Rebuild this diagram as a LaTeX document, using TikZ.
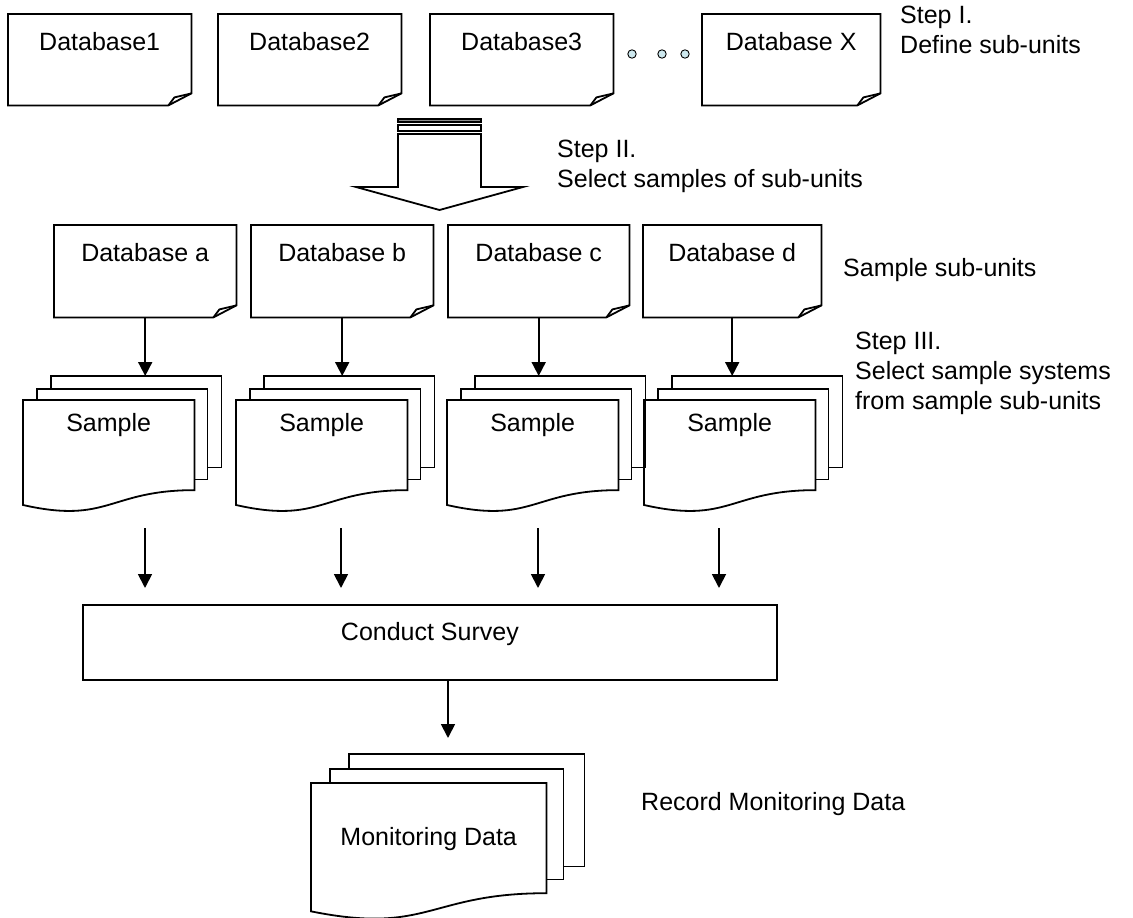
\documentclass[tikz,border=0pt]{standalone}
\usepackage{fontspec}
\setmainfont{Liberation Sans}
\usetikzlibrary{arrows.meta,calc}
\definecolor{dotfill}{RGB}{205,232,238}
\definecolor{barfill}{RGB}{140,140,140}
\tikzset{
  ln/.style={line width=1.8pt, line join=miter, draw=black},
  arr/.style={line width=1.8pt, -{Triangle[length=14pt,width=14pt]}},
  dbnode/.style={anchor=north west, inner sep=0pt, minimum height=91pt, text height=36pt, text depth=55pt},
  sheet/.style={anchor=north west, inner sep=0pt},
  txt/.style={anchor=north west, inner sep=0pt, align=left},
}
\newcommand\foldoutline[1]{%
  \draw[ln] (#1.north west) -- (#1.north east) -- ([yshift=12pt]#1.south east)
     -- ([xshift=-23pt]#1.south east) -- (#1.south west) -- cycle;
  \draw[ln] ([xshift=-23pt]#1.south east) -- ([xshift=-17pt,yshift=8pt]#1.south east)
     -- ([yshift=12pt]#1.south east);}
\newcommand\docoutline[1]{%
  \draw[ln] (#1.north west) -- (#1.north east) -- ($(#1.north east)!0.802!(#1.south east)$)
     .. controls ($(#1.north)!0.802!(#1.south)$) and ($(#1.north)!1.107!(#1.south)$) ..
     ($(#1.north west)!0.934!(#1.south west)$) -- cycle;}
\newcommand\backsheet[2]{%
  \draw[ln] (#1.west |- #2.north) -- (#1.north west) -- (#1.north east) -- (#1.south east) -- (#1.south -| #2.east);}
\newcommand\samplestack[2]{%
  \node[sheet, minimum width=171pt, minimum height=112pt, text height=31pt, text depth=81pt] (#1) at (#2,400) {Sample};
  \node[sheet, minimum width=170pt, minimum height=90pt] (#12) at (#2+14,389) {};
  \node[sheet, minimum width=170pt, minimum height=91pt] (#13) at (#2+28,376) {};
  \docoutline{#1}
  \backsheet{#12}{#1}
  \backsheet{#13}{#12}}
\begin{document}
\begin{tikzpicture}[x=1pt,y=-1pt,font=\fontsize{25}{30}\selectfont]
\useasboundingbox (0,0) rectangle (1133,918);

% Step I row
\node[dbnode, minimum width=183pt] (d1) at (8,14) {Database1};
\node[dbnode, minimum width=183pt] (d2) at (218,14) {Database2};
\node[dbnode, minimum width=183pt] (d3) at (430,14) {Database3};
\node[dbnode, minimum width=178pt] (dx) at (702,14) {Database X};
\foldoutline{d1}\foldoutline{d2}\foldoutline{d3}\foldoutline{dx}
\draw[line width=0.9pt, fill=dotfill] (632,54) circle (4.2pt);
\draw[line width=0.9pt, fill=dotfill] (662,54) circle (4.2pt);
\draw[line width=0.9pt, fill=dotfill] (685,54) circle (4.2pt);
\node[txt] (s1) at (900,5.5) {Step I.\\Define sub-units};

% Step II striped arrow
\draw[ln, fill=barfill] (398,119) rectangle (481,122);
\draw[ln, fill=white] (398,125) rectangle (481,131);
\draw[ln, fill=white] (398,134) -- (481,134) -- (481,187) -- (523,187) -- (439.5,210)
   -- (356,187) -- (398,187) -- cycle;
\node[txt] (s2) at (557,139.5) {Step II.\\Select samples of sub-units};

% sample sub-units
\node[dbnode, minimum width=182pt, minimum height=92pt, text depth=56pt] (da) at (54,225) {Database a};
\node[dbnode, minimum width=182pt, minimum height=92pt, text depth=56pt] (db) at (251,225) {Database b};
\node[dbnode, minimum width=181pt, minimum height=92pt, text depth=56pt] (dc) at (448,225) {Database c};
\node[dbnode, minimum width=178pt, minimum height=92pt, text depth=56pt] (dd) at (643,225) {Database d};
\foldoutline{da}\foldoutline{db}\foldoutline{dc}\foldoutline{dd}
\node[txt] (ssu) at (843,258.5) {Sample sub-units};

% sample stacks
\samplestack{sa}{23}
\samplestack{sb}{236}
\samplestack{sc}{447}
\samplestack{sd}{644}
\draw[arr] (da.south) -- (da.south |- sa3.north);
\draw[arr] (db.south) -- (db.south |- sb3.north);
\draw[arr] (dc.south) -- (dc.south |- sc3.north);
\draw[arr] (dd.south) -- (dd.south |- sd3.north);
\node[txt] (s3) at (855,331.5) {Step III.\\Select sample systems\\from sample sub-units};

% conduct survey
\node[draw, line width=1.8pt, anchor=north west, inner sep=0pt, minimum width=694pt, minimum height=75pt,
      text height=36pt, text depth=39pt] (cs) at (82,604) {Conduct Survey};
\coordinate (pa) at (145,528);
\coordinate (pb) at (341,528);
\coordinate (pc) at (538,528);
\coordinate (pd) at (719,528);
\draw[arr, shorten >=16pt] (pa) -- (pa |- cs.north);
\draw[arr, shorten >=16pt] (pb) -- (pb |- cs.north);
\draw[arr, shorten >=16pt] (pc) -- (pc |- cs.north);
\draw[arr, shorten >=16pt] (pd) -- (pd |- cs.north);

% monitoring data
\node[sheet, minimum width=235pt, minimum height=137pt, text height=62pt, text depth=75pt] (md) at (311,783) {Monitoring Data};
\node[sheet, minimum width=233pt, minimum height=110pt] (md2) at (330,769) {};
\node[sheet, minimum width=235pt, minimum height=112pt] (md3) at (349,754) {};
\docoutline{md}
\backsheet{md2}{md}
\backsheet{md3}{md2}
\coordinate (pm) at (448,679);
\draw[arr, shorten >=16pt] (cs.south -| pm) -- (pm |- md3.north);
\node[txt] (rmd) at (641,792.5) {Record Monitoring Data};
\end{tikzpicture}
\end{document}
